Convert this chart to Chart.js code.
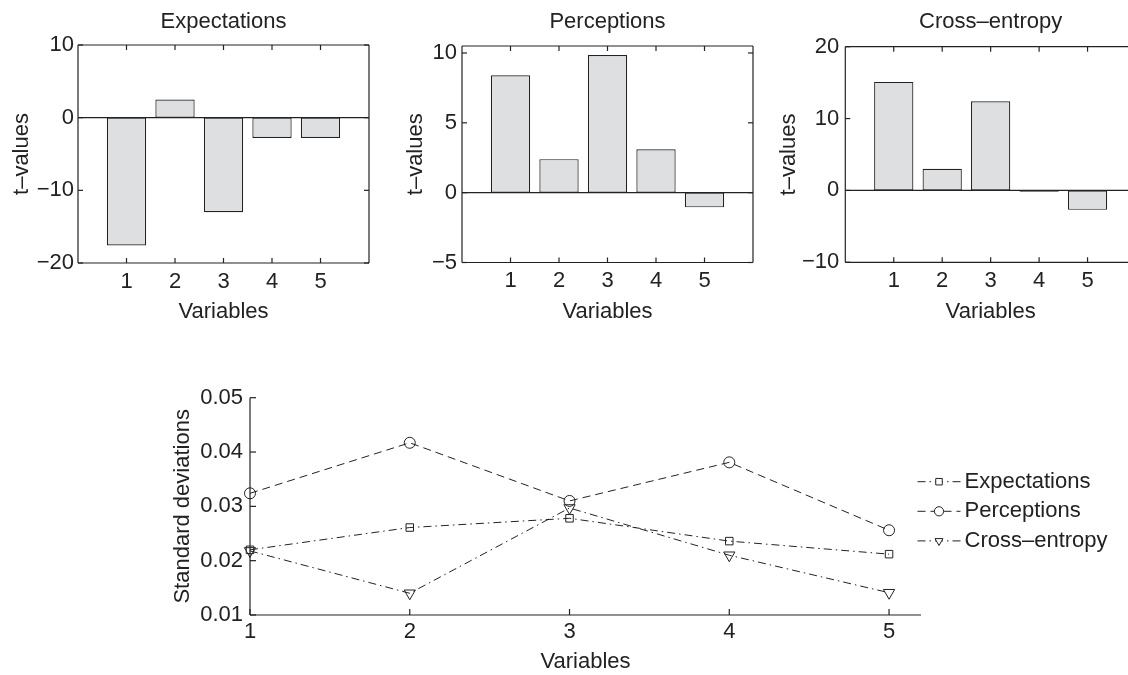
<!DOCTYPE html>
<html>
<head>
<meta charset="utf-8">
<script src="https://cdn.jsdelivr.net/npm/chart.js@4.4.1/dist/chart.umd.min.js"></script>
<style>
  html, body { margin: 0; padding: 0; background: #fff; overflow: hidden; width: 1128px; height: 675px; }
  .panel { position: absolute; }
</style>
</head>
<body>
<div class="panel" style="left:0;top:0;width:376px;height:330px"><canvas id="exp"></canvas></div>
<div class="panel" style="left:376px;top:0;width:380px;height:330px"><canvas id="per"></canvas></div>
<div class="panel" style="left:752px;top:0;width:400px;height:330px"><canvas id="cross"></canvas></div>
<div class="panel" style="left:150px;top:330px;width:978px;height:345px"><canvas id="sd"></canvas></div>
<script>
// variables 1..5
const categories = ["1", "2", "3", "4", "5"]

// t-values per model
const expectationsT = [-17.6, 2.5, -13.0, -2.8, -2.8]
const perceptionsT = [8.4, 2.4, 9.85, 3.1, -1.05]
const crossEntropyT = [15.1, 3.0, 12.4, -0.2, -2.7]

// standard deviations per model
const expectationsSd = [0.0220, 0.0261, 0.0278, 0.0236, 0.0212]
const perceptionsSd = [0.0324, 0.0417, 0.0310, 0.0381, 0.0256]
const crossEntropySd = [0.0218, 0.0140, 0.0297, 0.0210, 0.0141]

// tick labels
const expTicks = [-20, -10, 0, 10]
const perTicks = [-5, 0, 5, 10]
const crossTicks = [-10, 0, 10, 20]
const sdTicks = [0.01, 0.02, 0.03, 0.04, 0.05]

const ink = "#222"
const barFill = "#dedfe0"
const font = { family: "'Liberation Sans', Arial, Helvetica, sans-serif", size: 22 }

Chart.defaults.font.family = font.family
Chart.defaults.color = ink
Chart.defaults.animation = false

const minus = v => v < 0 ? "\u2212" + Math.abs(v) : String(v)

// box / axes, inward tick marks and zero line
const frame = {
  id: "frame",
  afterDatasetsDraw(chart, args, o) {
    const { ctx, chartArea: a, scales: { x, y } } = chart
    const seg = (x1, y1, x2, y2) => { ctx.beginPath(); ctx.moveTo(x1, y1); ctx.lineTo(x2, y2); ctx.stroke() }
    ctx.save()
    ctx.strokeStyle = ink
    ctx.lineWidth = 1.2
    if (o.zero) {
      const z = y.getPixelForValue(0)
      seg(a.left, z, a.right, z)
    }
    seg(a.left, a.top, a.left, a.bottom)
    seg(a.left, a.bottom, a.right, a.bottom)
    if (o.box) {
      seg(a.left, a.top, a.right, a.top)
      seg(a.right, a.top, a.right, a.bottom)
    }
    const len = o.tick
    x.ticks.forEach(t => {
      const px = x.getPixelForValue(t.value)
      seg(px, a.bottom, px, a.bottom - len)
      if (o.box) seg(px, a.top, px, a.top + len)
    })
    y.ticks.forEach(t => {
      const py = y.getPixelForValue(t.value)
      seg(a.left, py, a.left + len, py)
      if (o.box) seg(a.right, py, a.right - len, py)
    })
    ctx.restore()
  }
}

// matlab style legend beside the plot
const sideLegend = {
  id: "sideLegend",
  afterDraw(chart, args, o) {
    if (!o.show) return
    const { ctx, chartArea: a } = chart
    chart.data.datasets.forEach((ds, i) => {
      const y = a.top + o.top + i * o.rowGap
      const x0 = a.right + o.lineStart
      ctx.save()
      ctx.strokeStyle = ink
      ctx.lineWidth = 1
      ctx.setLineDash(ds.borderDash)
      ctx.beginPath(); ctx.moveTo(x0, y); ctx.lineTo(x0 + o.lineLength, y); ctx.stroke()
      ctx.setLineDash([])
      ctx.fillStyle = "#fff"
      Chart.helpers.drawPoint(ctx, { pointStyle: ds.pointStyle, rotation: ds.pointRotation || 0, radius: o.markerRadius, borderWidth: 1 }, x0 + o.lineLength / 2, y)
      ctx.fillStyle = ink
      ctx.font = font.size + "px " + font.family
      ctx.textBaseline = "middle"
      ctx.fillText(ds.label, x0 + o.lineLength + o.textGap, y)
      ctx.restore()
    })
  }
}

Chart.register(frame, sideLegend)

function barChart(id, title, values, ticks, o) {
  return new Chart(document.getElementById(id), {
    type: "bar",
    data: {
      datasets: [{
        data: categories.map((c, i) => ({ x: i + 1, y: values[i] })),
        backgroundColor: barFill,
        borderColor: ink,
        borderWidth: 1.2,
        borderSkipped: false,
        categoryPercentage: 0.81,
        barPercentage: 1
      }]
    },
    options: {
      responsive: true,
      maintainAspectRatio: false,
      layout: { padding: { left: 0, right: o.right, top: 0, bottom: 0 } },
      plugins: {
        legend: { display: false },
        tooltip: { enabled: false },
        title: { display: true, fullSize: false, text: title, color: ink, font: { size: font.size, weight: "normal" }, padding: { top: o.titleTop, bottom: o.titleBottom } },
        frame: { box: true, zero: true, tick: 5 },
        sideLegend: { show: false }
      },
      scales: {
        x: {
          type: "linear",
          min: 0,
          max: 6,
          offset: false,
          grid: { display: false, drawTicks: false },
          border: { display: false },
          afterBuildTicks: s => { s.ticks = categories.map((c, i) => ({ value: i + 1 })) },
          ticks: { color: ink, font: { size: font.size }, padding: o.xTickPad, maxRotation: 0, callback: v => categories[v - 1] ?? "" },
          title: { display: true, text: "Variables", color: ink, font: { size: font.size }, padding: { top: 0, bottom: o.xTitleBottom } },
          afterFit: s => { s.height = o.xHeight }
        },
        y: {
          min: o.min ?? ticks[0],
          max: o.max ?? ticks[ticks.length - 1],
          grid: { display: false, drawTicks: false },
          border: { display: false },
          afterBuildTicks: s => { s.ticks = ticks.map(v => ({ value: v })) },
          ticks: { color: ink, font: { size: font.size }, padding: o.yTickPad, callback: minus },
          title: { display: true, text: "t\u2013values", color: ink, font: { size: font.size }, padding: { top: o.yTitlePad, bottom: 0 } },
          afterFit: s => { s.width = o.yWidth }
        }
      }
    }
  })
}

barChart("exp", "Expectations", expectationsT, expTicks,
  { right: 7, titleTop: 8.3, titleBottom: 10.3, xHeight: 67, xTickPad: 5.8, xTitleBottom: 4.8, yTickPad: 4, yTitlePad: 8.5, yWidth: 78 })
barChart("per", "Perceptions", perceptionsT, perTicks,
  { max: 10.5, right: 3, titleTop: 8.3, titleBottom: 11.3, xHeight: 67.5, xTickPad: 5.5, xTitleBottom: 4.8, yTickPad: 5, yTitlePad: 26.8, yWidth: 86 })
barChart("cross", "Cross\u2013entropy", crossEntropyT, crossTicks,
  { right: 16, titleTop: 8.3, titleBottom: 12, xHeight: 67.7, xTickPad: 5.3, xTitleBottom: 4.8, yTickPad: 6, yTitlePad: 23.5, yWidth: 93.3 })

const lineSet = (label, values, dash, style, radius, rotation) => ({
  label,
  data: categories.map((c, i) => ({ x: i + 1, y: values[i] })),
  borderColor: ink,
  borderWidth: 1,
  borderDash: dash,
  pointStyle: style,
  pointRadius: radius,
  pointRotation: rotation,
  pointBorderColor: ink,
  pointBorderWidth: 1,
  pointBackgroundColor: "rgba(0,0,0,0)",
  fill: false,
  tension: 0,
  clip: false
})

new Chart(document.getElementById("sd"), {
  type: "line",
  data: {
    datasets: [
      lineSet("Expectations", expectationsSd, [8, 4, 1.5, 4], "rect", 5.3, 0),
      lineSet("Perceptions", perceptionsSd, [8, 5], "circle", 5.5, 0),
      lineSet("Cross\u2013entropy", crossEntropySd, [8, 4, 1.5, 4], "triangle", 6.5, 180)
    ]
  },
  options: {
    responsive: true,
    maintainAspectRatio: false,
    layout: { padding: { left: 0, right: 207, top: 67.7, bottom: 0 } },
    plugins: {
      legend: { display: false },
      tooltip: { enabled: false },
      title: { display: false },
      frame: { box: false, zero: false, tick: 6 },
      sideLegend: { show: true, top: 84, rowGap: 29.6, lineStart: -3.5, lineLength: 43, markerRadius: 4.6, textGap: 4 }
    },
    scales: {
      x: {
        type: "linear",
        min: 1,
        max: 5.2,
        grid: { display: false, drawTicks: false },
        border: { display: false },
        afterBuildTicks: s => { s.ticks = categories.map((c, i) => ({ value: i + 1 })) },
        ticks: { color: ink, font: { size: font.size }, padding: 3.5, maxRotation: 0, callback: v => categories[v - 1] ?? "" },
        title: { display: true, text: "Variables", color: ink, font: { size: font.size }, padding: { top: 0, bottom: 0 } },
        afterFit: s => { s.height = 60 }
      },
      y: {
        min: sdTicks[0],
        max: sdTicks[sdTicks.length - 1],
        grid: { display: false, drawTicks: false },
        border: { display: false },
        afterBuildTicks: s => { s.ticks = sdTicks.map(v => ({ value: v })) },
        ticks: { color: ink, font: { size: font.size }, padding: 7, callback: v => v.toFixed(2) },
        title: { display: true, text: "Standard deviations", color: ink, font: { size: font.size }, padding: { top: 19.8, bottom: 0 } },
        afterFit: s => { s.width = 100 }
      }
    }
  }
})
</script>
</body>
</html>
